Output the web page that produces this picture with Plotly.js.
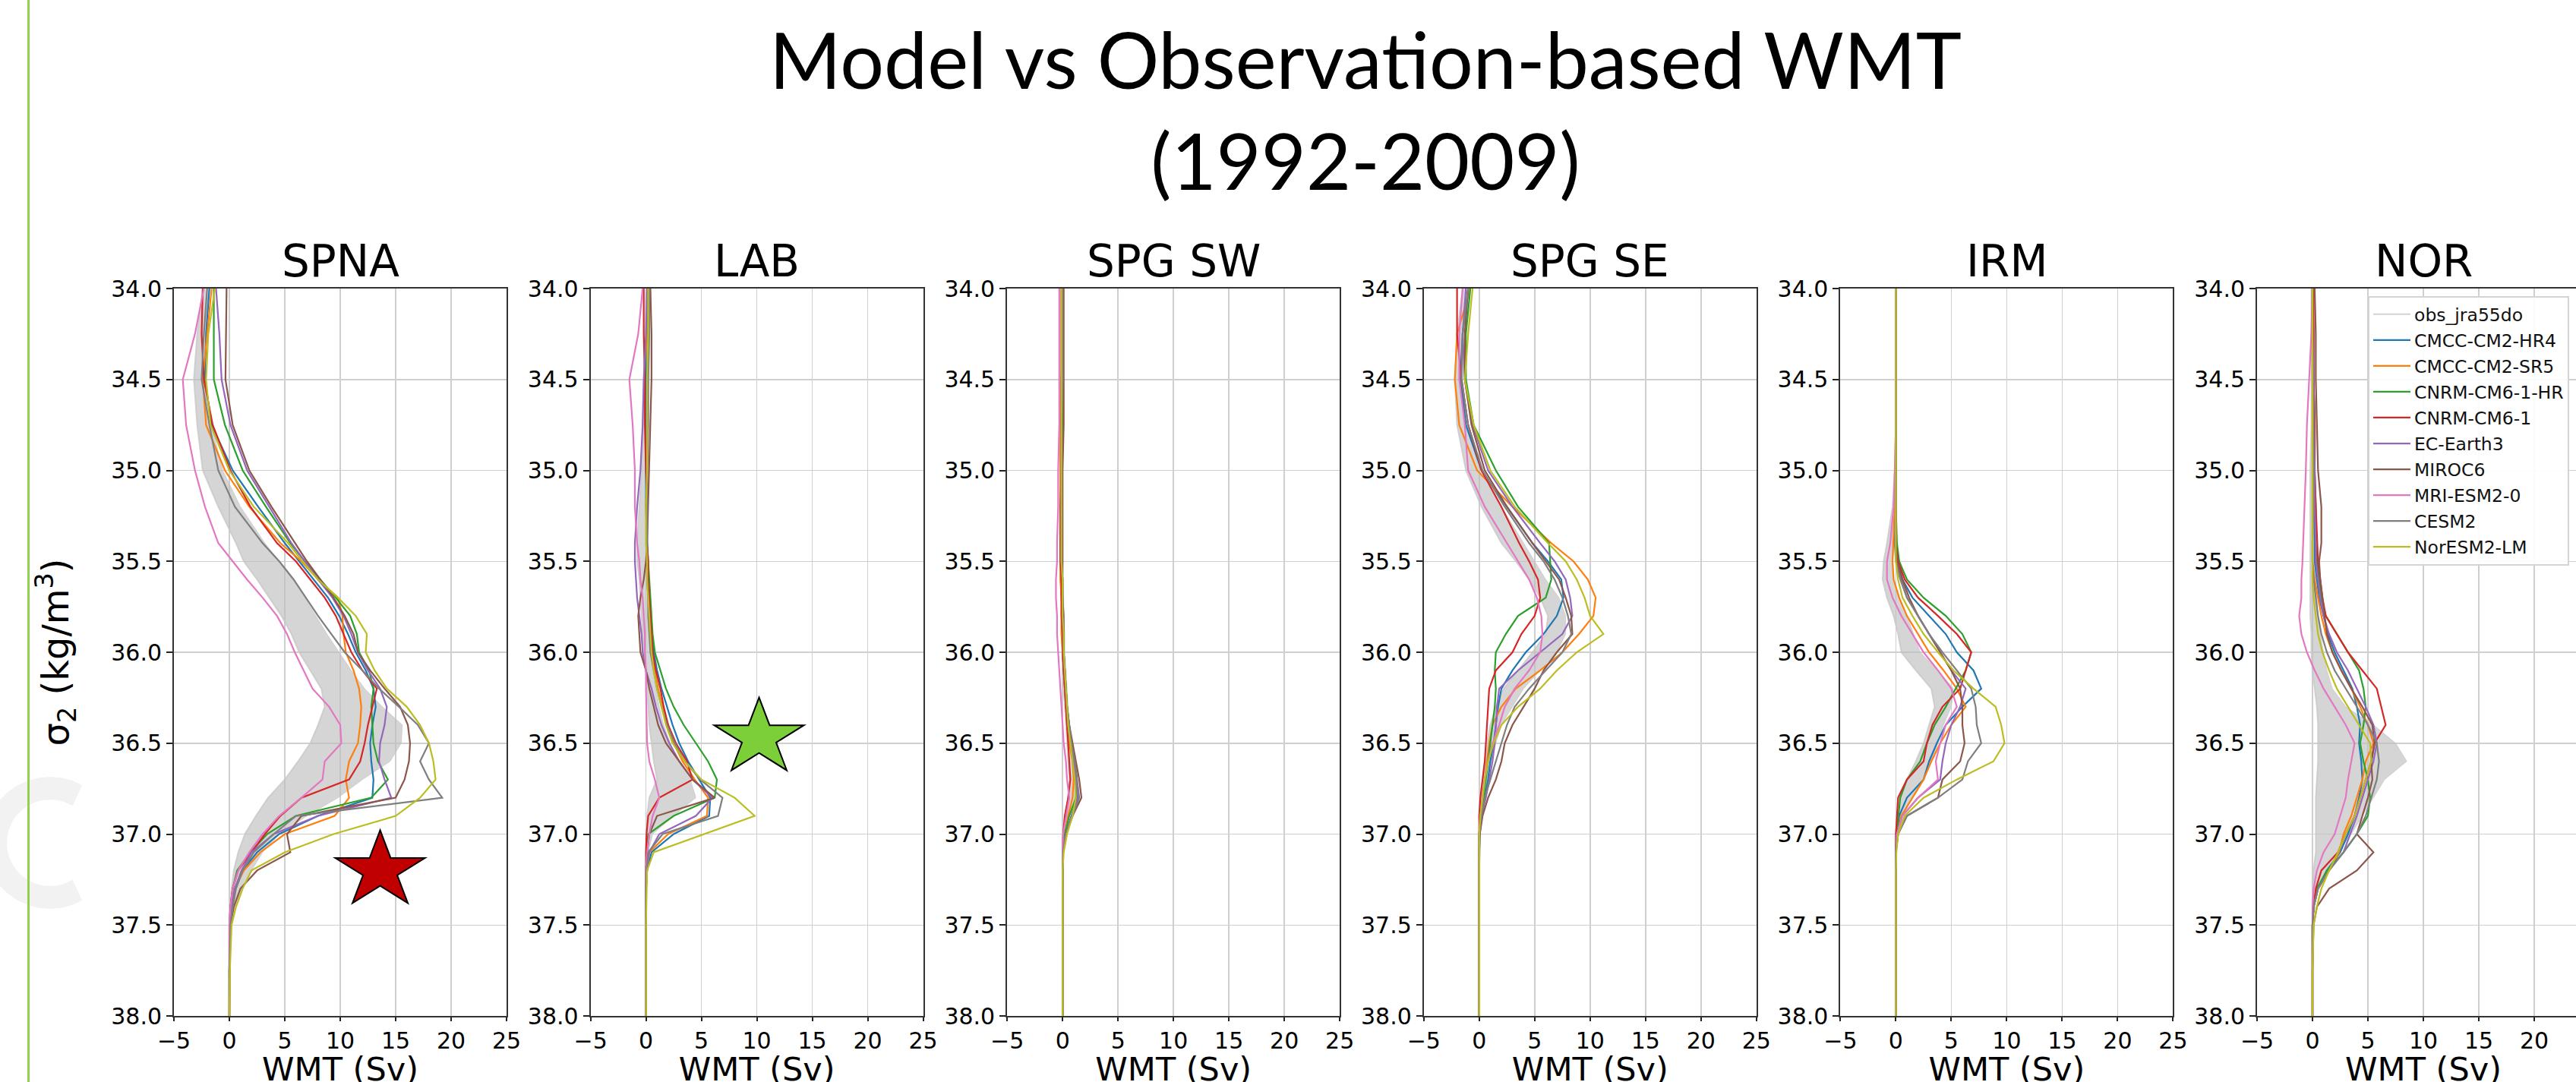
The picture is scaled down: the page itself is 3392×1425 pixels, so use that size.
<!DOCTYPE html>
<html>
<head>
<meta charset="utf-8">
<script src="https://cdn.plot.ly/plotly-3.0.1.min.js"></script>
<style>
html,body{margin:0;padding:0;overflow:hidden;background:#fff}
#chart{width:3430px;height:1433px}
</style>
</head>
<body>
<div id="chart"></div>
<script>
// ---------------- DATA ----------------
const sigma = [34.0, 34.25, 34.5, 34.75, 35.0, 35.2, 35.4, 35.5, 35.6, 35.7, 35.8, 35.9, 36.0, 36.1, 36.2, 36.3, 36.4, 36.5, 36.6, 36.7, 36.8, 36.9, 37.0, 37.1, 37.2, 37.3, 37.4, 37.5, 37.75, 38.0];
const regions = ['SPNA', 'LAB', 'SPG SW', 'SPG SE', 'IRM', 'NOR'];
const models = ['CMCC-CM2-HR4', 'CMCC-CM2-SR5', 'CNRM-CM6-1-HR', 'CNRM-CM6-1', 'EC-Earth3', 'MIROC6', 'MRI-ESM2-0', 'CESM2', 'NorESM2-LM'];
const modelColors = ['#1f77b4', '#ff7f0e', '#2ca02c', '#d62728', '#9467bd', '#8c564b', '#e377c2', '#7f7f7f', '#bcbd22'];
const obsName = 'obs_jra55do';

// observation-based range (lower / upper edge) per region
const spnaObsLo = [-2.4,-2.9,-3.2,-2.9,-2.4,-1.0,0.6,1.3,2.5,3.6,4.7,5.6,6.3,7.3,8.3,8.6,8.0,7.3,6.2,5.0,3.5,2.4,1.4,0.8,0.4,0.2,0.1,0,0,0];
const spnaObsHi = [-1.9,-2.1,-2.2,-1.6,-0.6,1.0,3.2,4.5,5.7,6.8,7.8,8.8,9.9,11.0,12.2,13.8,15.6,15.5,14.5,12.0,9.8,7.0,4.5,3.0,2.0,1.2,0.6,0.2,0.05,0];
const labObsLo = [0.0,-0.1,-0.2,-0.3,-0.4,-0.6,-0.8,-0.8,-0.6,-0.5,-0.4,-0.3,-0.2,0.0,0.1,0.2,0.3,0.5,0.7,1.0,0.3,0.1,0.0,0,0,0,0,0,0,0];
const labObsHi = [0.3,0.3,0.3,0.2,0.2,0.1,0.0,0.0,0.1,0.2,0.3,0.3,0.4,0.6,0.9,1.2,1.6,2.2,2.9,4.0,4.5,2.5,0.6,0.2,0.0,0,0,0,0,0];
const spgswObsLo = [-0.1,-0.1,-0.1,-0.2,-0.2,-0.2,-0.2,-0.2,-0.2,-0.1,-0.1,-0.1,0.0,0.0,0.1,0.2,0.3,0.4,0.5,0.6,0.5,0.2,0.0,0,0,0,0,0,0,0];
const spgswObsHi = [0.1,0.1,0.0,0.0,0.0,0.0,0.0,0.0,0.0,0.1,0.1,0.2,0.2,0.3,0.4,0.5,0.6,0.8,1.0,1.2,1.1,0.6,0.2,0.05,0,0,0,0,0,0];
const spgseObsLo = [-1.5,-2.0,-2.2,-2.0,-1.2,0.2,2.0,3.3,4.5,5.5,6.2,6.0,4.8,3.5,2.2,1.5,1.0,0.7,0.5,0.3,0.1,0,0,0,0,0,0,0,0,0];
const spgseObsHi = [-0.8,-1.2,-1.5,-1.0,0.0,2.0,4.0,5.0,6.0,7.2,7.8,7.8,7.0,5.5,4.0,3.0,2.0,1.5,1.1,0.8,0.5,0.3,0.1,0,0,0,0,0,0,0];
const irmObsLo = [0,0,0,0,-0.1,-0.3,-0.8,-1.1,-1.2,-0.8,-0.2,0.2,0.5,1.8,3.2,3.5,3.0,2.5,1.8,1.0,0.3,0.1,0,0,0,0,0,0,0,0];
const irmObsHi = [0,0,0,0,0,0,-0.1,-0.3,-0.2,0.3,1.0,1.6,2.2,3.8,5.2,5.0,4.3,3.8,3.2,2.5,1.5,0.6,0.2,0.05,0,0,0,0,0,0];
const norObsLo = [-0.1,-0.1,-0.1,-0.1,-0.2,-0.2,-0.2,-0.2,-0.2,-0.2,-0.2,-0.1,-0.1,0.0,0.2,0.4,0.5,0.5,0.5,0.4,0.3,0.3,0.3,0.3,0.1,0,0,0,0,0];
const norObsHi = [0.1,0.1,0.1,0.1,0.1,0.1,0.1,0.2,0.3,0.4,0.5,0.7,1.0,1.3,1.8,3.0,5.5,7.5,8.5,6.5,5.5,4.5,3.5,2.3,1.2,0.5,0.2,0.05,0,0];

// model WMT (Sv) per region, rows in the order of `models`
const spnaModels = [
  [-1.8,-2.1,-2.2,-1.6,0.3,2.6,5.0,6.3,7.6,8.9,9.9,10.7,11.4,12.3,13.0,13.2,12.9,12.7,12.8,13.0,12.9,8.0,4.5,2.5,1.2,0.5,0.2,0.05,0,0],
  [-1.6,-2.0,-2.4,-2.1,-0.4,1.8,4.6,6.5,8.0,9.8,10.2,10.3,10.5,11.2,11.7,11.9,11.8,11.6,10.8,10.5,10.8,9.5,5.0,2.8,1.3,0.5,0.2,0.05,0,0],
  [-1.4,-1.4,-1.4,-0.4,1.2,3.3,5.5,6.8,8.2,9.6,10.9,11.5,11.7,12.6,13.0,12.8,12.9,13.0,13.4,14.3,12.8,6.0,3.4,1.9,0.7,0.3,0.1,0.05,0,0],
  [-2.4,-2.5,-2.3,-1.5,0.1,1.9,4.3,6.0,7.3,8.6,9.6,10.3,11.0,12.0,13.3,12.9,12.5,12.2,11.8,10.8,6.5,4.6,3.2,2.0,0.8,0.3,0.1,0,0,0],
  [-1.2,-0.9,-0.7,0.1,1.6,3.6,5.6,6.8,8.0,9.3,10.3,11.0,11.6,12.5,13.6,14.2,14.0,13.6,13.5,14.0,14.6,8.0,4.0,2.0,1.1,0.5,0.2,0.05,0,0],
  [-0.25,-0.3,-0.35,0.3,1.8,3.8,5.9,7.0,8.2,9.4,10.4,11.2,11.6,12.7,14.0,15.4,16.1,16.3,16.2,15.8,15.0,6.5,5.2,5.5,2.5,1.0,0.4,0.1,0,0],
  [-2.3,-3.1,-4.2,-3.9,-3.1,-2.2,-1.0,0.3,1.6,3.0,4.3,5.2,5.9,6.7,7.5,9.0,10.0,10.1,8.6,8.4,6.5,4.5,3.0,1.8,0.8,0.3,0.1,0,0,0],
  [-2.0,-2.3,-2.5,-1.8,-1.0,0.5,3.0,4.5,5.8,6.9,8.0,9.2,10.4,12.0,13.5,15.3,17.0,18.0,17.2,18.0,19.2,6.0,4.0,2.2,1.2,0.6,0.3,0.1,0,0],
  [-1.3,-1.9,-2.1,-1.7,0.0,2.2,5.3,6.6,8.0,9.8,11.4,12.4,12.3,13.1,14.2,16.0,17.2,18.0,18.4,18.6,17.2,15.0,9.4,5.0,2.0,1.2,0.6,0.2,0.05,0]
];
const labModels = [
  [0.1,0.1,0.0,0.0,0.0,0.0,0.1,0.1,0.2,0.3,0.4,0.5,0.7,1.0,1.4,1.9,2.4,3.0,3.8,4.8,5.8,5.7,2.5,0.5,0.1,0,0,0,0,0],
  [0.2,0.1,0.1,0.1,0.1,0.0,0.1,0.1,0.2,0.2,0.3,0.4,0.5,0.8,1.1,1.5,2.0,2.5,3.3,4.4,5.6,5.5,2.0,0.3,0.1,0,0,0,0,0],
  [0.2,0.2,0.1,0.1,0.1,0.1,0.1,0.2,0.3,0.4,0.5,0.6,0.8,1.3,1.8,2.5,3.4,4.5,5.6,6.4,6.2,2.5,0.2,0.05,0,0,0,0,0,0],
  [-0.2,-0.2,-0.1,-0.1,0.0,0.1,0.1,0.2,0.2,0.3,0.4,0.5,0.6,0.9,1.3,1.6,2.0,2.7,3.7,4.2,1.2,0.2,0.05,0,0,0,0,0,0,0],
  [0.1,0.0,-0.2,-0.3,-0.5,-0.8,-1.0,-1.0,-0.9,-0.8,-0.6,-0.4,-0.3,0.0,0.5,0.9,1.4,2.1,3.0,4.2,6.0,4.5,1.2,0.3,0.1,0,0,0,0,0],
  [0.4,0.5,0.5,0.4,0.3,0.2,0.1,0.0,-0.2,-0.5,-0.7,-0.6,-0.5,0.0,0.3,0.7,1.1,1.8,3.0,4.2,6.2,1.0,0.3,0.1,0,0,0,0,0,0],
  [-0.3,-0.7,-1.5,-1.2,-1.0,-1.0,-0.8,-0.6,-0.5,-0.3,-0.2,-0.1,-0.1,0.0,0.0,0.05,0.1,0.1,0.3,0.8,1.2,0.6,0.3,0.1,0,0,0,0,0,0],
  [0.3,0.3,0.2,0.2,0.1,0.1,0.1,0.1,0.1,0.2,0.2,0.3,0.4,0.7,1.0,1.4,1.9,2.6,3.5,4.9,6.9,6.5,1.5,0.2,0.05,0,0,0,0,0],
  [0.2,0.2,0.1,0.1,0.1,0.0,0.0,0.1,0.1,0.2,0.3,0.4,0.5,0.7,1.0,1.4,1.8,2.4,3.5,5.0,8.0,9.8,5.2,0.7,0.1,0.05,0,0,0,0]
];
const spgswModels = [
  [0.0,0.0,-0.1,-0.1,-0.1,-0.1,-0.1,-0.1,-0.1,-0.1,0.0,0.0,0.0,0.1,0.2,0.3,0.5,0.7,1.0,1.2,1.3,0.8,0.3,0.05,0,0,0,0,0,0],
  [-0.1,-0.1,-0.1,-0.2,-0.2,-0.2,-0.2,-0.2,-0.2,-0.1,-0.1,-0.1,0.0,0.1,0.2,0.3,0.4,0.6,0.9,1.0,0.9,0.5,0.2,0.05,0,0,0,0,0,0],
  [0.0,0.0,0.0,0.0,-0.1,-0.1,-0.1,-0.1,-0.1,0.0,0.0,0.1,0.1,0.2,0.3,0.4,0.6,0.8,1.1,1.3,1.2,0.6,0.2,0.05,0,0,0,0,0,0],
  [-0.1,-0.1,-0.1,-0.1,-0.1,-0.2,-0.2,-0.2,-0.1,-0.1,-0.1,0.0,0.0,0.1,0.2,0.3,0.4,0.5,0.6,0.7,0.5,0.2,0.05,0,0,0,0,0,0,0],
  [0.0,0.0,-0.1,-0.1,-0.1,-0.1,-0.1,-0.1,0.0,0.0,0.0,0.1,0.1,0.2,0.3,0.4,0.5,0.7,1.0,1.2,1.4,0.8,0.3,0.05,0,0,0,0,0,0],
  [0.1,0.1,0.1,0.1,0.0,0.0,0.0,0.0,0.0,0.0,0.1,0.1,0.1,0.2,0.3,0.4,0.6,0.9,1.2,1.5,1.7,0.9,0.3,0.05,0,0,0,0,0,0],
  [-0.3,-0.3,-0.3,-0.3,-0.4,-0.4,-0.5,-0.5,-0.6,-0.6,-0.5,-0.5,-0.4,-0.3,-0.2,-0.1,0.0,0.1,0.3,0.4,0.6,0.3,0.05,0,0,0,0,0,0,0],
  [0.0,0.0,0.0,-0.1,-0.1,-0.1,-0.1,-0.1,0.0,0.0,0.0,0.1,0.1,0.2,0.3,0.4,0.6,0.8,1.1,1.3,1.5,0.9,0.3,0.05,0,0,0,0,0,0],
  [-0.1,-0.1,-0.1,-0.1,-0.1,-0.1,-0.1,-0.1,0.0,0.0,0.0,0.1,0.1,0.2,0.3,0.4,0.5,0.7,0.9,1.1,1.2,0.9,0.4,0.1,0,0,0,0,0,0]
];
const spgseModels = [
  [-1.0,-1.5,-1.7,-1.2,0.2,2.5,4.8,6.2,7.4,7.6,7.0,5.8,4.2,3.0,2.0,1.7,1.5,1.3,1.0,0.8,0.5,0.2,0.05,0,0,0,0,0,0,0],
  [-0.8,-2.0,-2.2,-1.8,-0.2,3.0,6.5,8.5,9.8,10.5,10.3,9.0,7.5,5.5,3.3,2.0,1.2,0.9,0.7,0.5,0.3,0.1,0,0,0,0,0,0,0,0],
  [-0.8,-1.2,-1.2,-0.5,1.5,3.5,6.3,6.4,6.5,6.0,3.5,2.4,1.5,1.4,1.5,1.4,1.2,1.0,0.8,0.6,0.4,0.1,0,0,0,0,0,0,0,0],
  [-2.0,-2.0,-1.6,-1.0,0.2,2.0,3.6,4.5,5.3,5.5,5.0,3.8,3.0,1.5,0.9,0.8,0.7,0.6,0.5,0.3,0.1,0.0,0,0,0,0,0,0,0,0],
  [-1.2,-1.5,-1.3,-0.6,0.8,3.0,5.5,6.8,7.8,8.2,8.4,7.5,5.5,3.5,1.8,1.6,1.5,1.4,1.2,0.9,0.6,0.2,0,0,0,0,0,0,0,0],
  [-1.0,-1.3,-1.3,-0.7,0.5,2.5,4.8,6.0,7.2,7.8,8.3,8.4,7.0,5.8,5.0,4.0,3.0,2.3,2.0,1.5,0.8,0.3,0.05,0,0,0,0,0,0,0],
  [-1.5,-1.8,-1.8,-1.3,-1.0,0.5,2.5,3.5,4.5,5.2,5.6,5.7,5.5,4.5,3.2,2.3,1.8,1.2,0.8,0.5,0.3,0.1,0,0,0,0,0,0,0,0],
  [-1.0,-1.5,-1.6,-1.0,0.3,2.3,4.5,5.8,6.8,7.5,8.0,8.3,7.5,6.0,4.5,3.2,2.5,2.0,1.5,1.0,0.5,0.2,0,0,0,0,0,0,0,0],
  [-0.6,-1.0,-1.3,-0.5,1.0,3.2,6.2,7.8,8.8,9.5,10.0,11.2,8.8,7.0,5.5,3.5,2.0,1.3,0.8,0.5,0.3,0.1,0,0,0,0,0,0,0,0]
];
const irmModels = [
  [0,0,0,0,0,0,0.0,0.2,0.6,1.5,3.0,4.5,5.5,7.0,7.7,6.0,4.5,3.7,3.0,2.5,1.0,0.3,0.1,0,0,0,0,0,0,0],
  [0,0,0,0,0,-0.1,-0.2,-0.3,-0.2,0.3,1.0,2.0,3.0,4.3,5.5,6.3,5.0,4.0,3.2,2.5,1.5,0.5,0.1,0,0,0,0,0,0,0],
  [0,0,0,0,0,0,0.1,0.3,1.0,2.5,4.5,6.0,6.8,6.3,5.4,4.5,3.5,2.8,2.2,1.0,0.4,0.2,0.05,0,0,0,0,0,0,0],
  [0,0,0,0,0,0,0.0,0.2,0.8,2.0,3.8,5.5,6.8,6.3,5.8,4.2,3.3,2.8,2.5,1.0,0.2,0.1,0,0,0,0,0,0,0,0],
  [0,0,0,0,0,0,0,0.1,0.5,1.0,2.0,3.0,4.0,5.0,6.3,5.8,5.0,4.5,4.2,4.0,2.0,0.6,0.1,0,0,0,0,0,0,0],
  [0,0,0,0,0,0,0.0,0.1,0.6,1.2,2.0,3.0,4.0,5.0,5.8,6.0,6.0,6.2,5.8,4.2,3.8,1.0,0.2,0,0,0,0,0,0,0],
  [0,0,0,0,-0.1,-0.2,-0.5,-0.8,-0.8,-0.3,0.5,1.5,2.5,3.8,5.0,5.5,4.5,4.0,3.6,3.8,2.0,0.6,0.1,0,0,0,0,0,0,0],
  [0,0,0,0,0,0,-0.1,0.0,0.4,1.0,2.0,3.0,4.2,5.5,6.8,7.2,7.3,7.7,6.5,6.0,3.8,1.0,0.2,0,0,0,0,0,0,0],
  [0,0,0,0,0,0,0,0.0,0.2,0.6,1.5,2.5,3.8,5.2,7.0,9.0,9.5,9.8,8.8,5.5,2.5,0.8,0.2,0.05,0,0,0,0,0,0]
];
const norModels = [
  [0,0.1,0.1,0.2,0.2,0.2,0.2,0.2,0.4,0.6,1.0,1.4,2.0,2.8,3.6,4.0,4.3,4.2,4.4,4.5,4.2,3.8,3.2,2.5,1.3,0.5,0.1,0,0,0],
  [0,0,0,0,0,0,0,0,0.2,0.5,0.8,1.2,1.8,2.6,3.5,4.3,5.0,5.5,4.8,4.5,4.0,3.5,2.8,2.4,1.5,0.5,0.1,0,0,0],
  [0,0,0.1,0.2,0.2,0.3,0.3,0.4,0.6,0.8,1.2,2.2,3.2,4.2,4.6,4.8,4.6,4.3,4.6,5.0,5.2,5.0,4.0,2.8,1.3,0.4,0.1,0,0,0],
  [0.1,0.1,0.1,0.2,0.2,0.3,0.4,0.5,0.7,0.9,1.2,2.2,3.2,4.5,5.8,6.2,6.6,5.6,5.3,4.8,4.3,3.8,3.0,2.3,0.8,0.3,0.1,0,0,0],
  [0,0,0.1,0.1,0.2,0.2,0.3,0.3,0.5,0.7,1.0,1.5,2.2,3.2,4.0,4.8,5.5,5.8,5.5,5.0,4.5,4.0,3.4,2.8,1.5,0.5,0.1,0,0,0],
  [0.2,0.3,0.3,0.4,0.5,0.8,0.8,0.6,0.7,0.9,1.1,1.3,1.8,2.6,3.5,4.5,5.4,5.6,5.3,5.4,5.0,4.5,4.0,5.5,4.0,1.5,0.4,0.1,0,0],
  [0,-0.1,-0.3,-0.5,-0.6,-0.7,-0.8,-0.9,-1.0,-1.0,-1.2,-1.0,-0.5,0.2,1.0,2.0,3.0,3.8,3.5,3.2,3.0,2.5,2.0,1.0,0.4,0.1,0,0,0,0],
  [0,0,0,0.1,0.1,0.1,0.0,0.0,0.1,0.3,0.5,0.8,1.3,2.0,3.0,4.0,5.0,5.8,6.0,5.8,5.3,4.8,4.0,2.8,1.5,0.5,0.1,0,0,0],
  [0,0,0,0,0,0,0,0,0,0.1,0.3,0.5,0.9,1.5,2.2,3.2,4.2,5.2,5.3,4.8,4.3,3.8,3.0,2.3,1.5,0.8,0.4,0.1,0,0]
];

const regionModels = [spnaModels, labModels, spgswModels, spgseModels, irmModels, norModels];
const regionObsLo = [spnaObsLo, labObsLo, spgswObsLo, spgseObsLo, irmObsLo, norObsLo];
const regionObsHi = [spnaObsHi, labObsHi, spgswObsHi, spgseObsHi, irmObsHi, norObsHi];

// highlight stars (panel index, WMT, sigma2)
const starPanel = [0, 1];
const starX = [13.6, 10.2];
const starY = [37.2, 36.47];
const starFill = ['#c00000', '#7ccf38'];

// ---------------- LAYOUT ----------------
// graph is slightly larger than the 3392x1425 window; the overflow is clipped like the slide crop
const W = 3430, H = 1433;
const panelLeft0 = 229, panelStep = 548.6, panelW = 438;
const plotTop = 380, plotBottom = 1338;
const yDom = [1 - plotBottom / H, 1 - plotTop / H];

const tickFont = {family: 'DejaVu Sans', size: 30, color: '#000'};
const legendFont = {family: 'DejaVu Sans', size: 23.5, color: '#111'};
const traces = [];
const layout = {
  width: W, height: H,
  margin: {l: 0, r: 0, t: 0, b: 0},
  paper_bgcolor: '#fff', plot_bgcolor: '#fff',
  font: legendFont,
  showlegend: true,
  title: {
    text: 'Model vs Observation-based WMT<br>(1992-2009)',
    font: {family: 'Lato', size: 102, color: '#000'},
    x: 1798 / W, xanchor: 'center', xref: 'paper',
    y: 1 - 117 / H, yanchor: 'top', yref: 'container'
  },
  legend: {
    x: 3118 / W, xanchor: 'left', y: 1 - 390 / H, yanchor: 'top',
    bgcolor: 'rgba(255,255,255,0.92)', bordercolor: '#d4d4d4', borderwidth: 2,
    font: legendFont, traceorder: 'grouped',
    itemwidth: 49, tracegroupgap: 0.5
  },
  annotations: [],
  shapes: []
};

regions.forEach((reg, i) => {
  const xa = 'x' + (i ? i + 1 : ''), ya = 'y' + (i ? i + 1 : '');
  const xKey = 'xaxis' + (i ? i + 1 : ''), yKey = 'yaxis' + (i ? i + 1 : '');
  const left = panelLeft0 + panelStep * i;
  layout[xKey] = {
    domain: [left / W, (left + panelW) / W], anchor: ya,
    range: [-5, 25], tick0: -5, dtick: 5,
    ticks: 'outside', ticklen: 5, tickwidth: 2, tickcolor: '#222',
    showline: true, mirror: true, linecolor: '#333', linewidth: 2,
    showgrid: true, gridcolor: '#cfcfcf', gridwidth: 1.5, zeroline: false,
    tickfont: tickFont,
    title: {text: 'WMT (Sv)', font: {family: 'DejaVu Sans', size: 43, color: '#000'}, standoff: 0}
  };
  layout[yKey] = {
    domain: yDom, anchor: xa,
    range: [38, 34], tick0: 34, dtick: 0.5, tickformat: '.1f',
    ticks: 'outside', ticklen: 8, tickwidth: 2, tickcolor: '#222',
    showline: true, mirror: true, linecolor: '#333', linewidth: 2,
    showgrid: true, gridcolor: '#cfcfcf', gridwidth: 1.5, zeroline: false,
    tickfont: tickFont
  };
  if (i === 0) {
    layout[yKey].title = {text: 'σ<sub>2</sub> (kg/m<sup>3</sup>)', font: {family: 'DejaVu Sans', size: 48, color: '#000'}, standoff: 40};
  }
  layout.annotations.push({
    text: reg, xref: 'paper', yref: 'paper',
    x: (left + panelW / 2) / W, y: 1 - plotTop / H, xanchor: 'center', yanchor: 'bottom',
    showarrow: false, font: {family: 'DejaVu Sans', size: 58, color: '#000'}
  });

  // observation-based band
  traces.push({
    x: regionObsLo[i], y: sigma, xaxis: xa, yaxis: ya, mode: 'lines',
    line: {color: 'rgba(200,200,200,0.8)', width: 2},
    name: obsName, legendgroup: 'obs', showlegend: i === 0, hoverinfo: 'skip'
  });
  traces.push({
    x: regionObsHi[i], y: sigma, xaxis: xa, yaxis: ya, mode: 'lines',
    fill: 'tonextx', fillcolor: 'rgba(190,190,190,0.65)',
    line: {color: 'rgba(200,200,200,0.8)', width: 1},
    name: obsName, legendgroup: 'obs', showlegend: false, hoverinfo: 'skip'
  });
  // models
  regionModels[i].forEach((vals, m) => {
    traces.push({
      x: vals, y: sigma, xaxis: xa, yaxis: ya, mode: 'lines',
      line: {color: modelColors[m], width: 2.2},
      name: models[m], legendgroup: models[m], showlegend: i === 0
    });
  });
});

// stars drawn as pixel-sized paths anchored at data positions
function starPath(rx, ry) {
  let p = '';
  for (let k = 0; k < 10; k++) {
    const a = Math.PI / 2 + k * Math.PI / 5;
    const r = (k % 2) ? 0.382 : 1;
    p += (k ? 'L' : 'M') + (rx * r * Math.cos(a)).toFixed(1) + ',' + (ry * r * Math.sin(a)).toFixed(1);
  }
  return p + 'Z';
}
starPanel.forEach((pi, s) => {
  const xa = 'x' + (pi ? pi + 1 : ''), ya = 'y' + (pi ? pi + 1 : '');
  layout.shapes.push({
    type: 'path', xref: xa, yref: ya, xsizemode: 'pixel', ysizemode: 'pixel',
    xanchor: starX[s], yanchor: starY[s], path: starPath(62, 53),
    fillcolor: starFill[s], line: {color: '#000', width: 2}, layer: 'above'
  });
});

// slide decorations: green left rule and faint watermark arc
layout.shapes.push({
  type: 'line', xref: 'paper', yref: 'paper', x0: 37.5 / W, x1: 37.5 / W, y0: 0, y1: 1,
  line: {color: '#92d050', width: 3}, layer: 'above'
});
(function () {
  let p = '';
  for (let k = 0; k <= 24; k++) {
    const a = (60 + k * 10) * Math.PI / 180;
    p += (k ? 'L' : 'M') + (72 * Math.cos(a)).toFixed(1) + ',' + (72 * Math.sin(a)).toFixed(1);
  }
  layout.shapes.push({
    type: 'path', xref: 'paper', yref: 'paper', xsizemode: 'pixel', ysizemode: 'pixel',
    xanchor: 66 / W, yanchor: 1 - 1110 / H, path: p,
    line: {color: 'rgba(0,0,0,0.05)', width: 30}, layer: 'below'
  });
})();

Plotly.newPlot('chart', traces, layout, {staticPlot: true, displayModeBar: false});
</script>
</body>
</html>
